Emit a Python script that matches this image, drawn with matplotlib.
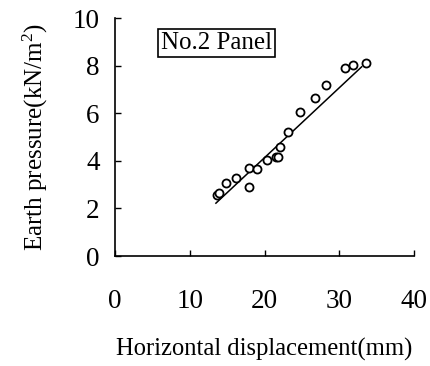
import matplotlib
matplotlib.use("Agg")
import matplotlib.pyplot as plt

# Data
disp_mm = [13.6, 13.9, 14.8, 16.2, 17.9, 17.9, 19.0, 20.4, 21.6, 21.8, 22.1, 23.1,
           24.8, 26.7, 28.2, 30.8, 31.9, 33.6]
pressure = [2.56, 2.63, 3.08, 3.29, 3.68, 2.91, 3.64, 4.03, 4.15, 4.18, 4.57, 5.22,
            6.04, 6.63, 7.19, 7.89, 8.03, 8.09]
fit_x = [13.5, 33.0]
fit_y = [2.22, 7.95]
x_ticks = [0, 10, 20, 30, 40]
y_ticks = [0, 2, 4, 6, 8, 10]
panel_label = "No.2 Panel"

plt.rcParams['font.family'] = ['Liberation Serif', 'DejaVu Serif']
plt.rcParams['mathtext.fontset'] = 'custom'
plt.rcParams['mathtext.rm'] = 'Liberation Serif'
plt.rcParams['mathtext.it'] = 'Liberation Serif:italic'

fig = plt.figure(figsize=(4.31, 3.66), dpi=100)
ax = fig.add_axes([115/431, 1 - 256/366, 299/431, 238/366])

ax.plot(fit_x, fit_y, color='black', lw=1.1)
ax.plot(disp_mm, pressure, linestyle='none', marker='o', markersize=5.8,
        markerfacecolor='white', markeredgecolor='black', markeredgewidth=1.3)

ax.set_xlim(0, 40)
ax.set_ylim(0, 10)
ax.set_xticks(x_ticks)
ax.set_yticks(y_ticks)
for s in ['top', 'right']:
    ax.spines[s].set_visible(False)
for s in ['left', 'bottom']:
    ax.spines[s].set_linewidth(1.2)
ax.tick_params(axis='x', direction='in', length=4, width=1.0, pad=24, labelsize=19.5)
ax.tick_params(axis='y', direction='in', length=4, width=1.0, pad=11, labelsize=19.5)

ax.set_xlabel("Horizontal displacement(mm)", fontsize=17.7, labelpad=17)
ax.set_ylabel(r"Earth pressure(kN/m$\mathregular{^2}$)", fontsize=18, labelpad=16)

ax.text(13.6, 8.97, panel_label, fontsize=18, ha='center', va='center',
        bbox=dict(boxstyle='square,pad=0.12', facecolor='white', edgecolor='black', linewidth=1.2))

fig.savefig("out.png", dpi=100)
